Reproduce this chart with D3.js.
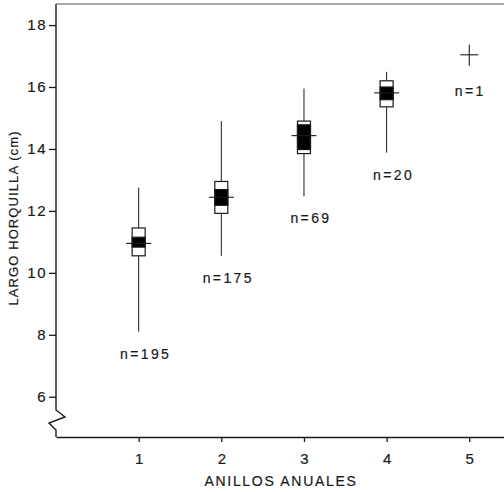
<!DOCTYPE html>
<html>
<head>
<meta charset="utf-8">
<script src="https://cdn.jsdelivr.net/npm/d3@7"></script>
<style>
  body { margin: 0; background: #fff; }
  svg { display: block; }
  text { font-family: "Liberation Sans", Arial, sans-serif; fill: #1a1a1a; stroke: #1a1a1a; stroke-width: 0.2px; }
</style>
</head>
<body>
<svg id="chart" width="504" height="492"></svg>
<script>
// datos
let anillos   = [1, 2, 3, 4];
let media     = [10.95, 12.44, 14.43, 15.81];
let minimo    = [8.1, 10.55, 12.47, 13.88];
let maximo    = [12.75, 14.9, 15.95, 16.49];
let cajaBaja  = [10.55, 11.92, 13.85, 15.36];   // caja blanca
let cajaAlta  = [11.45, 12.95, 14.9, 16.2];
let negroBajo = [10.83, 12.18, 13.98, 15.59];   // caja negra
let negroAlto = [11.15, 12.69, 14.78, 16.0];
let tamanos   = ["n=195", "n=175", "n=69", "n=20"];
// un solo ejemplar con 5 anillos
let unicoX = 5, unicoY = 17.04, unicoN = "n=1";

let ticksY = [6, 8, 10, 12, 14, 16, 18];
let ticksX = [1, 2, 3, 4, 5];

let svg = d3.select("#chart");
let ink = "#1a1a1a";

let x = d3.scaleLinear().domain([0, 5.42]).range([56, 504]);
let y = d3.scaleLinear().domain([4.7, 18.68]).range([437, 4]);

// eje Y (sin linea, la dibujamos con el corte)
let gy = svg.append("g")
  .attr("transform", "translate(56,0)")
  .call(d3.axisLeft(y).tickValues(ticksY).tickSize(7).tickPadding(2).tickFormat(d3.format("d")));
gy.select(".domain").remove();
gy.selectAll("line").attr("stroke", ink).attr("stroke-width", 1.3);
gy.selectAll("text").style("font-size", "15px").style("letter-spacing", "1.5px").attr("fill", ink);

// linea del eje Y con zigzag de corte
let zig = [[x(0), y.range()[1]], [x(0), 410], [x(0) + 9, 417], [x(0) - 7, 423], [x(0), 430], [x(0), y.range()[0]]];
svg.append("path")
  .attr("d", d3.line()(zig))
  .attr("fill", "none").attr("stroke", ink).attr("stroke-width", 1.4);

// borde superior
svg.append("line")
  .attr("x1", x(0)).attr("x2", 504).attr("y1", y.range()[1]).attr("y2", y.range()[1])
  .attr("stroke", "#555").attr("stroke-width", 1.2);

// eje X
let gx = svg.append("g")
  .attr("transform", `translate(0,${y.range()[0]})`)
  .call(d3.axisBottom(x).tickValues(ticksX).tickSize(5).tickSizeOuter(0).tickPadding(11).tickFormat(d3.format("d")));
gx.select(".domain").attr("stroke", ink).attr("stroke-width", 1.4);
gx.selectAll("line").attr("stroke", ink).attr("stroke-width", 1.3);
gx.selectAll("text").style("font-size", "15px").attr("fill", ink);

// titulos de ejes
svg.append("text")
  .attr("x", 281).attr("y", 486)
  .attr("text-anchor", "middle")
  .style("font-size", "14px").style("letter-spacing", "1.7px")
  .text("ANILLOS ANUALES");

svg.append("text")
  .attr("transform", "translate(18,218) rotate(-90)")
  .attr("text-anchor", "middle")
  .style("font-size", "13px").style("letter-spacing", "1.1px")
  .text("LARGO HORQUILLA (cm)");

// grupos
let grupos = svg.append("g");
anillos.forEach(function(a, i) {
  let cx = x(a);
  // rango
  grupos.append("line")
    .attr("x1", cx).attr("x2", cx)
    .attr("y1", y(minimo[i])).attr("y2", y(maximo[i]))
    .attr("stroke", ink).attr("stroke-width", 1);
  // caja blanca
  grupos.append("rect")
    .attr("x", cx - 6.5).attr("width", 13)
    .attr("y", y(cajaAlta[i])).attr("height", y(cajaBaja[i]) - y(cajaAlta[i]))
    .attr("fill", "#fff").attr("stroke", ink).attr("stroke-width", 1.2);
  // caja negra
  grupos.append("rect")
    .attr("x", cx - 6.5).attr("width", 13)
    .attr("y", y(negroAlto[i])).attr("height", y(negroBajo[i]) - y(negroAlto[i]))
    .attr("fill", "#000").attr("stroke", ink).attr("stroke-width", 1.2);
  // media
  grupos.append("line")
    .attr("x1", cx - 12.5).attr("x2", cx + 12.5)
    .attr("y1", y(media[i])).attr("y2", y(media[i]))
    .attr("stroke", ink).attr("stroke-width", 1.1);
  // n
  grupos.append("text")
    .attr("x", cx + 7).attr("y", y(minimo[i]) + 27)
    .attr("text-anchor", "middle")
    .style("font-size", "14px").style("letter-spacing", "2.4px")
    .text(tamanos[i]);
});

// el caso n=1
grupos.append("line")
  .attr("x1", x(unicoX) - 9).attr("x2", x(unicoX) + 9)
  .attr("y1", y(unicoY)).attr("y2", y(unicoY))
  .attr("stroke", ink).attr("stroke-width", 1.1);
grupos.append("line")
  .attr("x1", x(unicoX)).attr("x2", x(unicoX))
  .attr("y1", y(unicoY) - 10).attr("y2", y(unicoY) + 11)
  .attr("stroke", ink).attr("stroke-width", 1.1);
grupos.append("text")
  .attr("x", x(unicoX) + 1).attr("y", y(unicoY) + 41)
  .attr("text-anchor", "middle")
  .style("font-size", "14px").style("letter-spacing", "2.4px")
  .text(unicoN);
</script>
</body>
</html>
